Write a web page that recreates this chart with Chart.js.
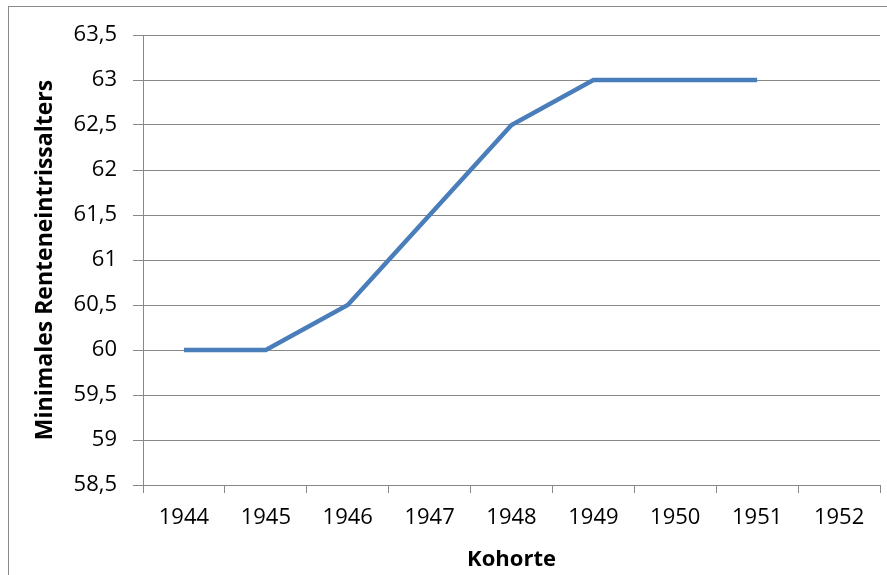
<!DOCTYPE html>
<html>
<head>
<meta charset="utf-8">
<script src="https://cdn.jsdelivr.net/npm/chart.js@4/dist/chart.umd.min.js"></script>
<style>
html,body{margin:0;padding:0;background:#fff;}
#wrap{width:887px;height:575px;position:relative;}
</style>
</head>
<body>
<div id="wrap"><canvas id="c" width="887" height="575"></canvas></div>
<script>
const categories = ['1944','1945','1946','1947','1948','1949','1950','1951','1952'];
const values = [60, 60, 60.5, 61.5, 62.5, 63, 63, 63, null];
const yMin = 58.5, yMax = 63.5, yStep = 0.5;
const xTitle = 'Kohorte';
const yTitle = 'Minimales Renteneintrissalters';

const FONT = '"Open Sans", "Noto Sans", sans-serif';
const GRID = '#888888';

const framePlugin = {
  id: 'frame',
  afterDraw(chart) {
    const ctx = chart.ctx;
    ctx.save();
    ctx.strokeStyle = '#8a8a8a';
    ctx.lineWidth = 1;
    ctx.strokeRect(8.5, 6.5, 900, 600);
    ctx.restore();
  }
};

new Chart(document.getElementById('c'), {
  type: 'line',
  data: {
    labels: categories,
    datasets: [{
      data: values,
      borderColor: '#4A7EBB',
      borderWidth: 4.5,
      pointRadius: 0,
      tension: 0,
      fill: false,
      spanGaps: false
    }]
  },
  options: {
    responsive: false,
    animation: false,
    devicePixelRatio: 1,
    layout: { padding: { top: 35, right: 7, left: 0, bottom: 0 } },
    plugins: { legend: { display: false }, tooltip: { enabled: false } },
    scales: {
      x: {
        type: 'category',
        offset: true,
        grid: { display: true, drawOnChartArea: false, drawTicks: true, offset: true, tickLength: 8, color: GRID, lineWidth: 1 },
        border: { display: true, color: GRID, width: 1 },
        ticks: { color: '#000', font: { family: FONT, size: 22 }, padding: 12, maxRotation: 0, autoSkip: false },
        title: { display: true, text: xTitle, color: '#000', font: { family: FONT, size: 22, weight: 'bold' }, padding: { top: 0, bottom: 2 } },
        afterFit(scale) { scale.height = 90; }
      },
      y: {
        min: yMin, max: yMax,
        grid: { color: GRID, lineWidth: 1, drawTicks: true, tickLength: 10 },
        border: { display: true, color: GRID, width: 1 },
        ticks: {
          stepSize: yStep,
          color: '#000',
          font: { family: FONT, size: 22 },
          padding: 16,
          callback: (v) => String(v).replace('.', ',')
        },
        title: { display: true, text: yTitle, color: '#000', font: { family: FONT, size: 23, weight: 'bold' }, padding: { top: 32, bottom: 0 } },
        afterFit(scale) { scale.width = 143; }
      }
    }
  },
  plugins: [framePlugin]
});
</script>
</body>
</html>
